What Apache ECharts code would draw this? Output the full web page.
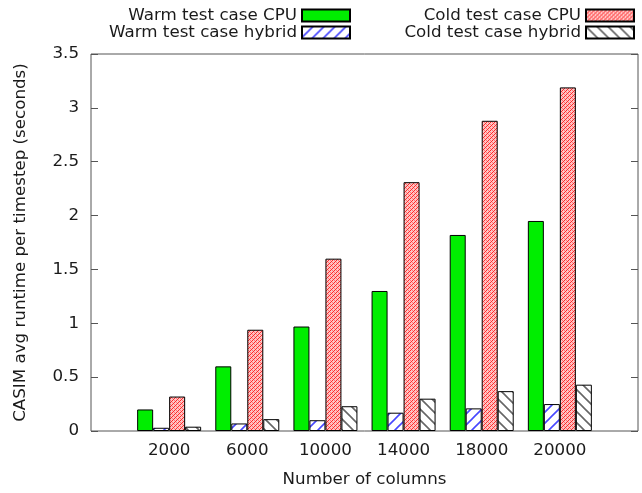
<!DOCTYPE html>
<html>
<head>
<meta charset="utf-8">
<script src="https://cdn.jsdelivr.net/npm/echarts@6/dist/echarts.min.js"></script>
<style>
  html, body { margin: 0; padding: 0; background: #fff; }
  #chart { width: 642px; height: 493px; }
</style>
</head>
<body>
<div id="chart"></div>
<script>
// 数据
const columns = ['2000', '6000', '10000', '14000', '18000', '20000']
const warmCpu = [0.2, 0.6, 0.97, 1.3, 1.82, 1.95]
const warmHybrid = [0.03, 0.07, 0.1, 0.17, 0.21, 0.25]
const coldCpu = [0.32, 0.94, 1.6, 2.31, 2.88, 3.19]
const coldHybrid = [0.04, 0.11, 0.23, 0.3, 0.37, 0.43]

// 填充纹理
function stripes(color, dir) {
    const n = 11
    const c = document.createElement('canvas')
    c.width = n; c.height = n
    const ctx = c.getContext('2d')
    ctx.fillStyle = '#fff'
    ctx.fillRect(0, 0, n, n)
    ctx.strokeStyle = color
    ctx.lineWidth = 1.6
    ctx.beginPath()
    for (let k = -1; k <= 1; k++) {
        if (dir > 0) { // "/"
            ctx.moveTo(k * n - 2, n + 2); ctx.lineTo(k * n + n + 2, -2)
        } else { // "\"
            ctx.moveTo(k * n - 2, -2); ctx.lineTo(k * n + n + 2, n + 2)
        }
    }
    ctx.stroke()
    return { image: c, repeat: 'repeat' }
}

// 红色网格纹理
function checker() {
    const c = document.createElement('canvas')
    c.width = 4; c.height = 4
    const ctx = c.getContext('2d')
    ctx.fillStyle = '#ffc4c4'
    ctx.fillRect(0, 0, 4, 4)
    ctx.fillStyle = '#ff2a2a'
    ctx.fillRect(0, 0, 1, 1)
    ctx.fillRect(2, 2, 1, 1)
    ctx.fillRect(1, 3, 1, 1)
    ctx.fillRect(3, 1, 1, 1)
    ctx.fillStyle = '#ff7878'
    ctx.fillRect(2, 0, 1, 1)
    ctx.fillRect(0, 2, 1, 1)
    return { image: c, repeat: 'repeat' }
}

// 两端留空位，使分组居中
const pad = arr => ['-'].concat(arr, ['-'])
const font = 'DejaVu Sans'
const fs = 16.7

const myChart = echarts.init(document.getElementById('chart'))
const legendBase = {
    orient: 'vertical',
    align: 'right',
    top: 2,
    icon: 'rect',
    itemWidth: 48,
    itemHeight: 12,
    itemGap: 0,
    textStyle: { fontSize: fs, color: '#1a1a1a', fontFamily: font }
}
const option = {
    animation: false,
    textStyle: { fontFamily: font },
    grid: {
        left: 91, right: 4, top: 54, bottom: 62,
        show: true,
        borderColor: '#555',
        borderWidth: 1
    },
    legend: [
        Object.assign({}, legendBase, {
            data: ['Warm test case CPU', 'Warm test case hybrid'],
            right: 286
        }),
        Object.assign({}, legendBase, {
            data: ['Cold test case CPU', 'Cold test case hybrid'],
            right: 2
        })
    ],
    xAxis: {
        type: 'category',
        boundaryGap: false,
        data: pad(columns).map(v => v === '-' ? '' : v),
        name: 'Number of columns',
        nameLocation: 'middle',
        nameGap: 40,
        nameTextStyle: { fontSize: fs, color: '#1a1a1a' },
        axisLine: { show: false },
        axisTick: { show: false },
        axisLabel: { fontSize: fs, color: '#1a1a1a', margin: 11, interval: 0 }
    },
    yAxis: [
        {
            type: 'value',
            min: 0,
            max: 3.5,
            interval: 0.5,
            name: 'CASIM avg runtime per timestep (seconds)',
            nameLocation: 'middle',
            nameGap: 62,
            nameTextStyle: { fontSize: fs, color: '#1a1a1a' },
            axisLine: { show: false },
            axisTick: { show: true, inside: true, length: 7, lineStyle: { color: '#555' } },
            axisLabel: { fontSize: fs, color: '#1a1a1a', margin: 12 },
            splitLine: { show: false }
        },
        {
            type: 'value',
            position: 'right',
            min: 0,
            max: 3.5,
            interval: 0.5,
            axisLine: { show: false },
            axisTick: { show: true, inside: true, length: 7, lineStyle: { color: '#555' } },
            axisLabel: { show: false },
            splitLine: { show: false }
        }
    ],
    series: [
        {
            name: 'Warm test case CPU',
            type: 'bar',
            barWidth: 16,
            barGap: '0%',
            itemStyle: { color: '#00ee00', borderColor: '#000', borderWidth: 1 },
            data: pad(warmCpu)
        },
        {
            name: 'Warm test case hybrid',
            type: 'bar',
            barWidth: 16,
            barGap: '0%',
            itemStyle: { color: stripes('#4848ff', 1), borderColor: '#000', borderWidth: 1 },
            data: pad(warmHybrid)
        },
        {
            name: 'Cold test case CPU',
            type: 'bar',
            barWidth: 16,
            barGap: '0%',
            itemStyle: { color: checker(), borderColor: '#000', borderWidth: 1 },
            data: pad(coldCpu)
        },
        {
            name: 'Cold test case hybrid',
            type: 'bar',
            barWidth: 16,
            barGap: '0%',
            itemStyle: { color: stripes('#666', -1), borderColor: '#000', borderWidth: 1 },
            data: pad(coldHybrid)
        }
    ]
}
myChart.setOption(option)
</script>
</body>
</html>
